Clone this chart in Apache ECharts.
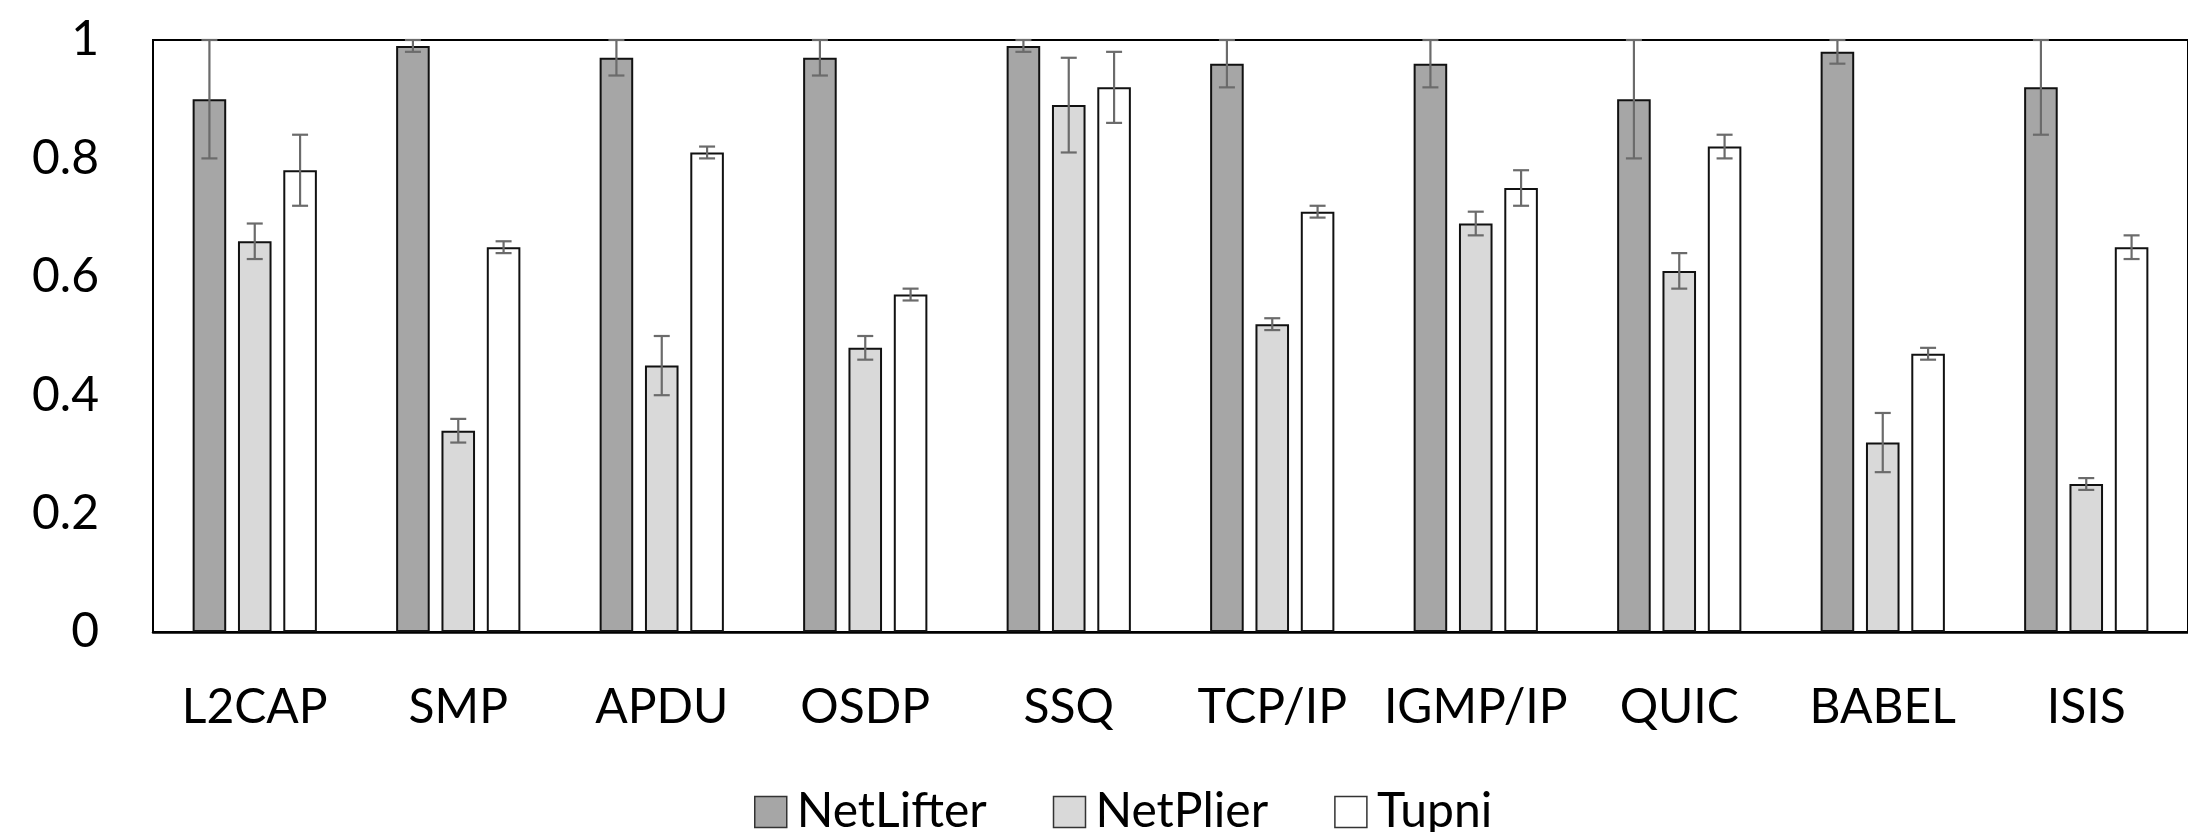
<!DOCTYPE html>
<html><head><meta charset="utf-8">
<script src="https://cdn.jsdelivr.net/npm/echarts@6/dist/echarts.min.js"></script>
<style>html,body{margin:0;padding:0;background:#fff}#c{width:2188px;height:832px}</style>
</head><body><div id="c"></div>
<script>
const categories = ['L2CAP','SMP','APDU','OSDP','SSQ','TCP/IP','IGMP/IP','QUIC','BABEL','ISIS'];
const seriesNames = ['NetLifter','NetPlier','Tupni'];
const netLifter    = [0.90,0.99,0.97,0.97,0.99,0.96,0.96,0.90,0.98,0.92];
const netLifterErr = [0.10,0.01,0.03,0.03,0.01,0.04,0.04,0.10,0.02,0.08];
const netPlier     = [0.66,0.34,0.45,0.48,0.89,0.52,0.69,0.61,0.32,0.25];
const netPlierErr  = [0.03,0.02,0.05,0.02,0.08,0.01,0.02,0.03,0.05,0.01];
const tupni        = [0.78,0.65,0.81,0.57,0.92,0.71,0.75,0.82,0.47,0.65];
const tupniErr     = [0.06,0.01,0.01,0.01,0.06,0.01,0.03,0.02,0.01,0.02];
const yTickLabels  = ['0','0.2','0.4','0.6','0.8','1'];

const values = [netLifter, netPlier, tupni];
const errors = [netLifterErr, netPlierErr, tupniErr];
const fills = ['#a6a6a6', '#d9d9d9', '#ffffff'];
const BAR_FRAC = 0.165, GAP_FRAC = 0.35;
const FONT = 'Lato';

const chart = echarts.init(document.getElementById('c'), null, {renderer: 'canvas'});

function errRender(k) {
  return function (params, api) {
    const i = api.value(0), v = api.value(1), e = api.value(2);
    const band = api.size([1, 0])[0];
    const w = band * BAR_FRAC;
    const off = (k - 1) * w * (1 + GAP_FRAC);
    const top = api.coord([i, Math.min(v + e, 1)]);
    const bot = api.coord([i, Math.max(v - e, 0)]);
    const x = top[0] + off;
    const cap = 8;
    const st = {stroke: '#6b6b6b', lineWidth: 2.2};
    return {type: 'group', children: [
      {type: 'line', shape: {x1: x, y1: top[1], x2: x, y2: bot[1]}, style: st},
      {type: 'line', shape: {x1: x - cap, y1: top[1], x2: x + cap, y2: top[1]}, style: st},
      {type: 'line', shape: {x1: x - cap, y1: bot[1], x2: x + cap, y2: bot[1]}, style: st}
    ]};
  };
}

const series = [];
seriesNames.forEach((name, k) => {
  series.push({
    name: name, type: 'bar',
    data: values[k],
    barWidth: (BAR_FRAC * 100) + '%',
    barGap: (GAP_FRAC * 100) + '%',
    itemStyle: {color: fills[k], borderColor: '#111', borderWidth: 2},
    emphasis: {disabled: true},
    z: 2
  });
});
seriesNames.forEach((name, k) => {
  series.push({
    name: name + ' err', type: 'custom',
    renderItem: errRender(k),
    encode: {x: 0, y: 1},
    data: values[k].map((v, i) => [i, v, errors[k][i]]),
    z: 5, silent: true
  });
});

chart.setOption({
  animation: false,
  backgroundColor: '#fff',
  grid: {left: 153, right: -18, top: 40, bottom: 200, show: true, borderColor: '#000', borderWidth: 2, backgroundColor: 'transparent'},
  legend: {
    data: seriesNames,
    left: 749, top: 783,
    itemWidth: 32, itemHeight: 31, itemGap: 66,
    icon: 'rect',
    textStyle: {fontFamily: FONT, fontSize: 48, color: '#000', lineHeight: 48, padding: [0, 0, 0, 5]},
    itemStyle: {borderColor: '#333', borderWidth: 1.5}
  },
  xAxis: {
    type: 'category', data: categories,
    axisLine: {show: true, lineStyle: {color: '#000', width: 2.5}},
    axisTick: {show: false},
    axisLabel: {fontFamily: FONT, fontSize: 48, lineHeight: 48, color: '#000', margin: 52, interval: 0}
  },
  yAxis: {
    type: 'value', min: 0, max: 1, interval: 0.2,
    axisLine: {show: true, lineStyle: {color: '#000', width: 2}},
    axisTick: {show: false},
    splitLine: {show: false},
    axisLabel: {fontFamily: FONT, fontSize: 48, color: '#000', margin: 54,
      formatter: (v) => yTickLabels[Math.round(v / 0.2)]}
  },
  series: series
});
</script>
</body></html>
